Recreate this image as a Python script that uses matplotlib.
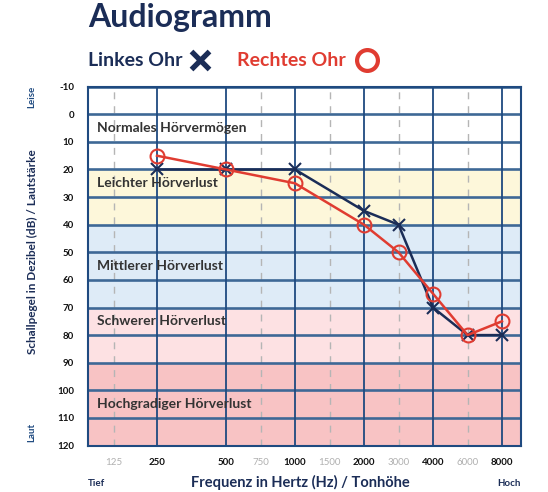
import matplotlib.pyplot as plt
import numpy as np
from matplotlib.lines import Line2D

plt.rcParams['font.family'] = ['Lato', 'DejaVu Sans']

# Messwerte (Hz / dB)
freqs = [250, 500, 1000, 2000, 3000, 4000, 6000, 8000]
left_ear = [20, 20, 20, 35, 40, 70, 80, 80]
right_ear = [15, 20, 25, 40, 50, 65, 80, 75]

main_ticks = [250, 500, 1000, 2000, 4000, 8000]
minor_ticks = [125, 750, 1500, 3000, 6000]
db_ticks = list(range(-10, 121, 10))

# Bereiche des Hörverlusts
bands = [
    (-10, 20, '#ffffff', 'Normales Hörvermögen', 5),
    (20, 40, '#fdf7da', 'Leichter Hörverlust', 25),
    (40, 70, '#deebf7', 'Mittlerer Hörverlust', 55),
    (70, 90, '#fde1e3', 'Schwerer Hörverlust', 75),
    (90, 120, '#f8c3c4', 'Hochgradiger Hörverlust', 105),
]

NAVY = '#1b2d57'
RED = '#e03c31'
GRID = '#3e6896'

# Skala wie im Audiogramm: Oktaven gleich breit, Zwischenwerte mittig
anchor_f = np.log2([90, 125, 250, 500, 750, 1000, 1500, 2000, 3000, 4000, 6000, 8000, 11500])
anchor_x = np.array([-1.0, -0.62, 0, 1, 1.5, 2, 2.5, 3, 3.5, 4, 4.5, 5, 5.275])


def forward(f):
    f = np.clip(np.asarray(f, dtype=float), 1e-3, None)
    return np.interp(np.log2(f), anchor_f, anchor_x)


def inverse(x):
    return 2 ** np.interp(np.asarray(x, dtype=float), anchor_x, anchor_f)


fig = plt.figure(figsize=(5.48, 4.92), dpi=100)
ax = fig.add_axes([0.1606, 0.0945, 0.7901, 0.7293])
ax.set_xscale('function', functions=(forward, inverse))
ax.set_xlim(90, 11500)
ax.set_ylim(120, -10)

for lo, hi, col, name, ytxt in bands:
    ax.axhspan(lo, hi, color=col, zorder=0, lw=0)
    ax.annotate(name, xy=(0, ytxt), xycoords=('axes fraction', 'data'),
                xytext=(9, 0), textcoords='offset pixels',
                fontsize=10, fontweight='bold', color='#333333', va='center', zorder=5)

for d in db_ticks:
    ax.axhline(d, color=GRID, lw=1.9, zorder=1)
for f in main_ticks:
    ax.axvline(f, color='#1f4a80', lw=1.3, zorder=1)
for f in minor_ticks:
    ax.axvline(f, color='#b5b5b5', lw=1, ls=(0, (5, 5)), zorder=0.8)

ax.plot(freqs, left_ear, color=NAVY, lw=1.8, marker='x', ms=9, mew=1.5, zorder=3)
ax.plot(freqs, right_ear, color=RED, lw=1.8, marker='o', ms=10, mfc='none', mew=1.5, zorder=4)

for s in ax.spines.values():
    s.set_color('#1f4a80')
    s.set_linewidth(1.5)

ax.set_yticks(db_ticks)
ax.set_yticklabels([str(d) for d in db_ticks], fontsize=7, fontweight='bold', color='#111111')
ax.tick_params(axis='y', length=0, pad=10)

ax.set_xticks(main_ticks + minor_ticks)
ax.set_xticklabels([str(f) for f in main_ticks + minor_ticks], fontsize=7)
ax.xaxis.set_minor_locator(plt.NullLocator())
for lab, f in zip(ax.get_xticklabels(), main_ticks + minor_ticks):
    if f in main_ticks:
        lab.set_fontweight('bold')
        lab.set_color('#111111')
    else:
        lab.set_color('#b0b0b0')
ax.tick_params(axis='x', length=0, pad=9)

# Titel und Legende
fig.text(88 / 548, 1 - 27 / 492, 'Audiogramm', fontsize=23, fontweight='bold', color=NAVY, va='baseline')
fig.text(88 / 548, 1 - 60 / 492, 'Linkes Ohr', fontsize=14, fontweight='bold', color=NAVY, va='center')
fig.add_artist(Line2D([200 / 548], [1 - 60 / 492], marker='x', ms=13, mec=NAVY, mew=3.8,
                      transform=fig.transFigure))
fig.text(237 / 548, 1 - 60 / 492, 'Rechtes Ohr', fontsize=14, fontweight='bold', color=RED, va='center')
fig.add_artist(Line2D([367 / 548], [1 - 60 / 492], marker='o', ms=15, mfc='none', mec=RED, mew=3,
                      transform=fig.transFigure))

# Achsenbeschriftungen
fig.text(32 / 548, 1 - 252 / 492, 'Schallpegel in Dezibel (dB) / Lautstärke', rotation=90, fontsize=8.5,
         fontweight='bold', color=NAVY, ha='center', va='center')
fig.text(32 / 548, 1 - 97 / 492, 'Leise', rotation=90, fontsize=7, fontweight='bold', color='#1f4a80',
         ha='center', va='center')
fig.text(32 / 548, 1 - 432 / 492, 'Laut', rotation=90, fontsize=7, fontweight='bold', color='#1f4a80',
         ha='center', va='center')
fig.text(300 / 548, 1 - 482 / 492, 'Frequenz in Hertz (Hz) / Tonhöhe', fontsize=10.5, fontweight='bold',
         color=NAVY, ha='center', va='center')
fig.text(88 / 548, 1 - 483 / 492, 'Tief', fontsize=7, fontweight='bold', color=NAVY, ha='left', va='center')
fig.text(521 / 548, 1 - 483 / 492, 'Hoch', fontsize=7, fontweight='bold', color=NAVY, ha='right', va='center')

fig.savefig('out.png', dpi=100)
